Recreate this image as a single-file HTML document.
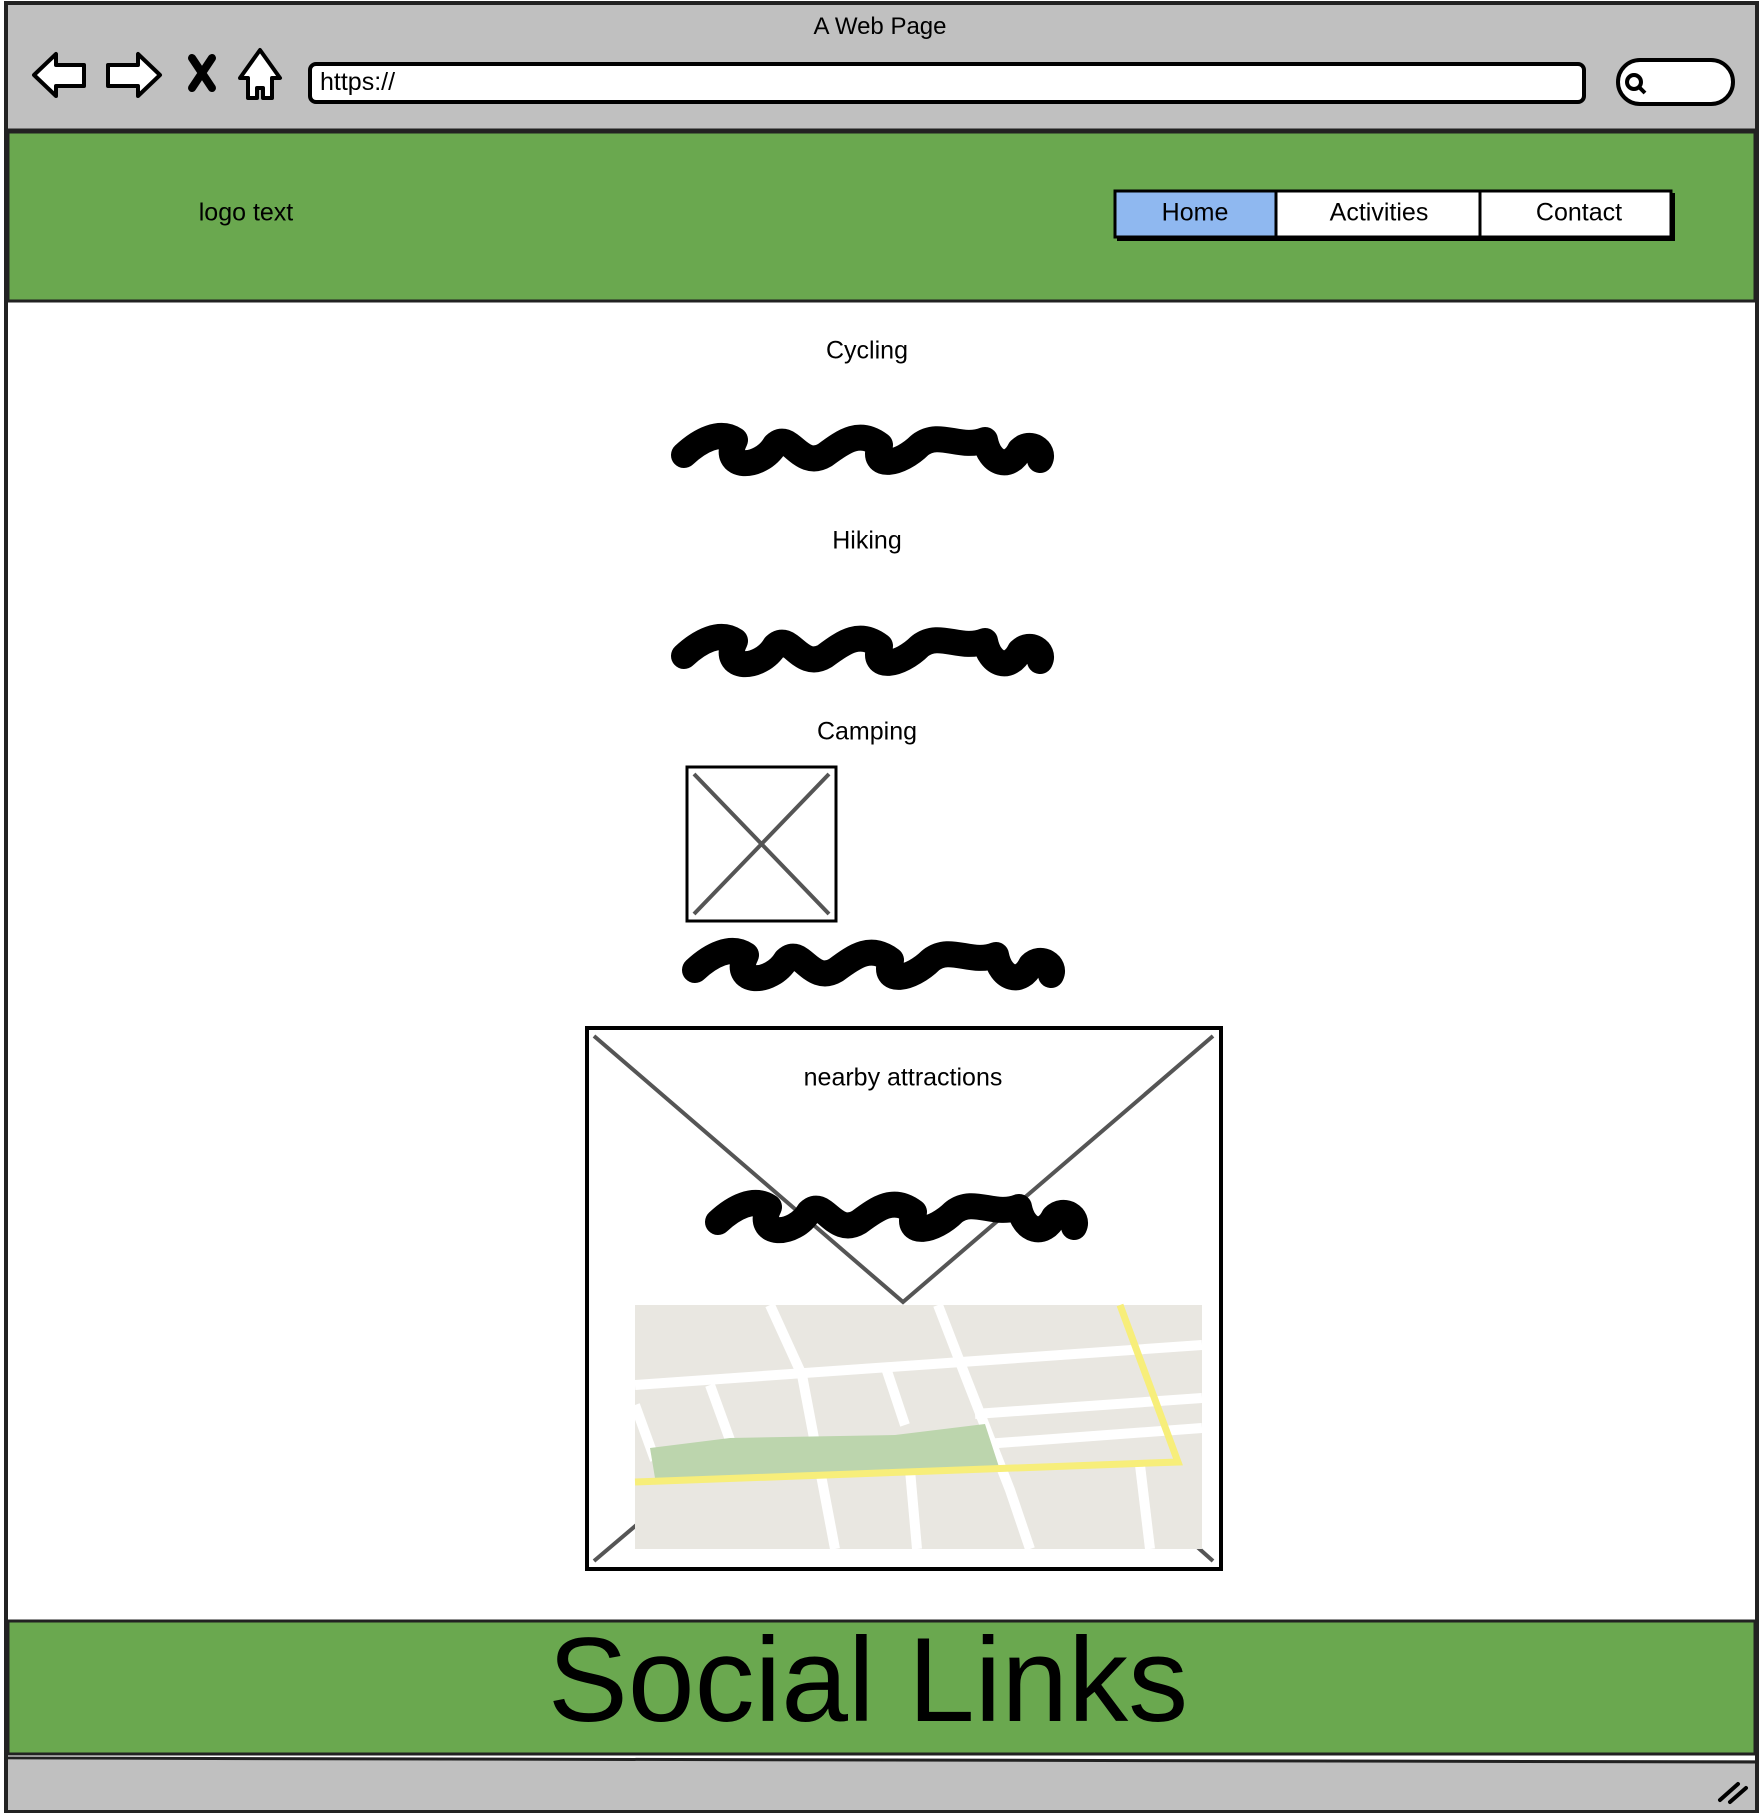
<!DOCTYPE html>
<html><head><meta charset="utf-8">
<style>
html,body{margin:0;padding:0;background:#fff;}
body{width:1760px;height:1814px;position:relative;overflow:hidden;font-family:"Liberation Sans",sans-serif;}
.abs{position:absolute;}
.t{position:absolute;transform:translate(-50%,-50%);white-space:nowrap;color:#000;}
</style></head><body>
<svg class="abs" style="left:0;top:0" width="1760" height="1814">
  <rect x="6" y="3" width="1751" height="1808" fill="#fff" stroke="#222" stroke-width="4"/>
  <rect x="8" y="5" width="1747" height="125" fill="#c0c0c0"/>
  <line x1="6" y1="130" x2="1757" y2="130" stroke="#222" stroke-width="3"/>
  <path d="M34 75 L56 54 L56 65 L84 65 L84 86 L56 86 L56 96 Z" fill="#fff" stroke="#000" stroke-width="4" stroke-linejoin="round"/>
  <path d="M160 75 L138 54 L138 65 L108 65 L108 86 L138 86 L138 96 Z" fill="#fff" stroke="#000" stroke-width="4" stroke-linejoin="round"/>
  <path d="M192 58 L212 88 M212 58 L192 88" stroke="#000" stroke-width="8" stroke-linecap="round"/>
  <path d="M240 78 L260 50 L280 78 L272 78 L272 98 L263 98 L263 88 L257 88 L257 98 L248 98 L248 78 Z" fill="#fff" stroke="#000" stroke-width="4" stroke-linejoin="round"/>
  <rect x="310" y="64" width="1274" height="38" rx="6" fill="#fff" stroke="#000" stroke-width="4"/>
  <rect x="1618" y="60" width="115" height="44" rx="22" fill="#fff" stroke="#000" stroke-width="4"/>
  <circle cx="1634" cy="82" r="7" fill="none" stroke="#000" stroke-width="4"/>
  <line x1="1639" y1="87" x2="1645" y2="93" stroke="#000" stroke-width="4"/>
  <rect x="8" y="132" width="1747" height="169" fill="#6aa84f" stroke="#222" stroke-width="3"/>
  <rect x="1115" y="191" width="161" height="46" fill="#8fb8f0" stroke="#000" stroke-width="3"/>
  <rect x="1276" y="191" width="204" height="46" fill="#fff" stroke="#000" stroke-width="3"/>
  <rect x="1480" y="191" width="191" height="46" fill="#fff" stroke="#000" stroke-width="3"/>
  <line x1="1117" y1="239" x2="1675" y2="239" stroke="#000" stroke-width="4"/>
  <line x1="1673" y1="193" x2="1673" y2="241" stroke="#000" stroke-width="4"/>
  <g fill="none" stroke="#000" stroke-width="26" stroke-linecap="round" stroke-linejoin="round">
    <path d="M684 455 C700 440 720 430 735 440 C720 470 760 470 775 445 C790 430 800 470 825 455 C845 440 860 430 880 445 C870 470 900 465 920 445 C940 430 960 450 985 440 C990 465 1010 470 1020 450 C1030 440 1045 450 1040 460"/>
    <path d="M684 656 C700 641 720 631 735 641 C720 671 760 671 775 646 C790 631 800 671 825 656 C845 641 860 631 880 646 C870 671 900 666 920 646 C940 631 960 651 985 641 C990 666 1010 671 1020 651 C1030 641 1045 651 1040 661"/>
    <path d="M695 970 C711 955 731 945 746 955 C731 985 771 985 786 960 C801 945 811 985 836 970 C856 955 871 945 891 960 C881 985 911 980 931 960 C951 945 971 965 996 955 C1001 980 1021 985 1031 965 C1041 955 1056 965 1051 975"/>
  </g>
  <rect x="687" y="767" width="149" height="154" fill="#fff" stroke="#000" stroke-width="3"/>
  <path d="M694 774 L829 914 M829 774 L694 914" stroke="#555" stroke-width="4"/>
  <rect x="587" y="1028" width="634" height="541" fill="#fff" stroke="#000" stroke-width="4"/>
  <path d="M594 1036 L903 1302 L1213 1036 M594 1561 L640 1522 M1213 1561 L1195 1545" stroke="#555" stroke-width="4" fill="none"/>
  <path d="M718 1222 C734 1207 754 1197 769 1207 C754 1237 794 1237 809 1212 C824 1197 834 1237 859 1222 C879 1207 894 1197 914 1212 C904 1237 934 1232 954 1212 C974 1197 994 1217 1019 1207 C1024 1232 1044 1237 1054 1217 C1064 1207 1079 1217 1074 1227" fill="none" stroke="#000" stroke-width="26" stroke-linecap="round" stroke-linejoin="round"/>
  <g>
    <rect x="635" y="1305" width="567" height="244" fill="#e9e7e1"/>
    <g stroke="#fff" stroke-width="10" fill="none">
      <path d="M635 1385 L1202 1345"/>
      <path d="M975 1414 L1202 1398"/>
      <path d="M985 1444 L1202 1428"/>
      <path d="M770 1305 L802 1375 L835 1549"/>
      <path d="M938 1305 L965 1375 L1010 1490 L1030 1549"/>
      <path d="M710 1385 L730 1440"/>
      <path d="M885 1365 L905 1425"/>
      <path d="M635 1405 L655 1460"/>
      <path d="M910 1470 L917 1549"/>
      <path d="M1140 1465 L1150 1549"/>
    </g>
    <path d="M650 1448 L730 1438 L895 1435 L985 1424 L1000 1470 L655 1478 Z" fill="#bcd5ad"/>
    <path d="M635 1482 L1178 1462 L1120 1305" stroke="#f7ee7a" stroke-width="7" fill="none"/>
  </g>
  <rect x="8" y="1621" width="1747" height="133" fill="#6aa84f" stroke="#222" stroke-width="3"/>
  <rect x="8" y="1760" width="1747" height="50" fill="#c0c0c0"/>
  <line x1="6" y1="1758" x2="1757" y2="1762" stroke="#222" stroke-width="3"/>
  <path d="M1720 1800 L1738 1784 M1730 1802 L1746 1788" stroke="#000" stroke-width="4" stroke-linecap="round"/>
</svg>
<div class="t" style="left:880px;top:27px;font-size:24px">A Web Page</div>
<div class="abs" style="left:320px;top:68px;font-size:25px">https://</div>
<div class="t" style="left:246px;top:213px;font-size:25px">logo text</div>
<div class="t" style="left:1195px;top:213px;font-size:25px">Home</div>
<div class="t" style="left:1379px;top:213px;font-size:25px">Activities</div>
<div class="t" style="left:1579px;top:213px;font-size:25px">Contact</div>
<div class="t" style="left:867px;top:351px;font-size:25px">Cycling</div>
<div class="t" style="left:867px;top:541px;font-size:25px">Hiking</div>
<div class="t" style="left:867px;top:732px;font-size:25px">Camping</div>
<div class="t" style="left:903px;top:1078px;font-size:25px">nearby attractions</div>
<div class="t" style="left:868px;top:1680px;font-size:120px">Social Links</div>
</body></html>
